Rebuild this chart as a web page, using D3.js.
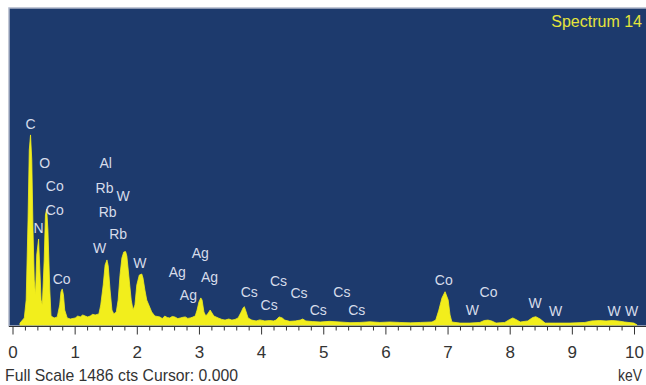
<!DOCTYPE html>
<html>
<head>
<meta charset="utf-8">
<script src="https://cdn.jsdelivr.net/npm/d3@7/dist/d3.min.js"></script>
<style>
  html, body { margin: 0; padding: 0; background: #ffffff; }
  svg { display: block; }
</style>
</head>
<body>
<svg id="chart" width="646" height="385"></svg>
<script>
// ---------- DATA ----------
const spectrumKeV = [0.12,0.19,0.22,0.25,0.27,0.29,0.31,0.33,0.35,0.37,0.39,0.42,0.43,0.46,0.48,0.51,0.53,0.55,0.57,0.60,0.62,0.67,0.72,0.76,0.78,0.80,0.82,0.84,0.88,0.93,
  1.01,1.05,1.09,1.13,1.17,1.21,1.25,1.29,1.33,1.39,1.42,1.46,1.49,1.52,1.54,1.57,1.60,1.63,1.67,1.70,1.73,1.76,1.79,1.82,1.84,1.87,1.91,1.94,1.97,2.00,2.04,2.08,2.10,2.13,2.16,2.20,2.24,2.29,
  2.37,2.41,2.45,2.49,2.53,2.57,2.61,2.66,2.70,2.74,2.78,2.82,2.86,2.90,2.94,2.97,3.00,3.03,3.05,3.08,3.11,3.15,3.18,3.21,3.24,3.31,3.37,3.42,3.48,3.53,3.58,3.63,3.68,3.71,3.73,3.76,3.79,3.85,
  3.92,3.98,4.06,4.14,4.20,4.24,4.29,4.34,4.38,4.46,4.55,4.63,4.67,4.72,4.83,4.95,5.10,5.27,5.43,5.59,5.75,5.91,6.07,6.23,6.40,6.56,6.75,6.81,6.86,6.91,6.96,7.01,7.04,7.07,
  7.20,7.36,7.52,7.59,7.65,7.71,7.78,7.92,8.00,8.05,8.10,8.17,8.29,8.37,8.42,8.49,8.57,8.73,8.97,9.21,9.32,9.45,9.55,9.65,9.74,9.85,10.00,10.05];
const spectrumCts = [9,33,117,492,820,891,774,445,211,141,328,403,328,117,94,305,516,544,445,164,42,33,38,94,155,169,141,70,33,28,
  33,42,38,47,42,38,42,50,47,52,94,188,281,305,277,164,70,52,61,117,234,314,342,344,323,234,117,70,94,188,234,239,220,164,117,89,61,42,
  38,30,42,35,33,40,38,30,33,36,38,31,33,37,42,70,108,127,117,61,42,56,70,56,42,33,26,23,28,23,26,33,61,80,86,61,33,23,
  19,24,19,21,19,23,38,33,23,17,19,23,28,19,16,14,17,14,11,12,15,12,14,12,10,12,14,23,70,127,156,117,47,14,
  9,9,12,21,23,19,9,12,26,33,26,14,19,35,39,28,9,9,9,12,19,21,19,21,19,14,9,0];

const peakLabels = ["C","N","O","Co","Co","Co","Al","Rb","W","Rb","Rb","W","W",
  "Ag","Ag","Ag","Ag","Cs","Cs","Cs","Cs","Cs","Cs","Cs","Co","W","Co","W","W","W","W"];
const peakLabelKeV = [0.29,0.42,0.52,0.68,0.68,0.79,1.50,1.48,1.78,1.53,1.70,1.40,2.05,
  3.02,2.65,3.17,2.83,3.81,4.28,4.13,4.61,4.92,5.30,5.54,6.94,7.40,7.66,8.41,8.74,9.68,9.96];
const peakLabelCts = [942,453,761,652,539,214,758,644,605,531,427,360,292,
  336,248,224,141,156,206,94,149,70,156,70,211,70,153,105,67,67,67];

const majorTicks = [0,1,2,3,4,5,6,7,8,9,10];
const minorTicks = d3.range(0, 50).map(i => i / 5).filter(v => !Number.isInteger(v));
const fullScale = 1486;
const spectrumTitle = "Spectrum 14";
const footerText = "Full Scale 1486 cts Cursor: 0.000";
const unitText = "keV";

// ---------- LAYOUT ----------
const svg = d3.select("#chart");
const plot = { left: 9, top: 8, right: 646, bottom: 326 };
const x = d3.scaleLinear().domain([0, 10]).range([12.5, 634]);
const y = d3.scaleLinear().domain([0, fullScale]).range([325, 8]);
const labelFont = "'Liberation Sans', Arial, sans-serif";

svg.append("rect").attr("x", 0).attr("y", 0).attr("width", 646).attr("height", 385).attr("fill", "#ffffff");

svg.append("rect")
  .attr("x", plot.left).attr("y", plot.top)
  .attr("width", plot.right - plot.left + 2).attr("height", plot.bottom - plot.top)
  .attr("fill", "#1d3a6d")
  .attr("stroke", "#aeb6c9").attr("stroke-width", 1.5);

const pts = spectrumKeV.map((k, i) => [k, spectrumCts[i]]);
const area = d3.area()
  .x(d => x(d[0]))
  .y0(y(0))
  .y1(d => y(d[1]))
  .curve(d3.curveLinear);

svg.append("path")
  .datum(pts)
  .attr("d", area)
  .attr("fill", "#f2ee1c")
  .attr("stroke", "#f2ee1c")
  .attr("stroke-width", 0.8);

// peak labels
svg.append("g").selectAll("text")
  .data(peakLabels)
  .join("text")
  .attr("x", (d, i) => x(peakLabelKeV[i]))
  .attr("y", (d, i) => y(peakLabelCts[i]))
  .attr("dy", "0.36em")
  .attr("text-anchor", "middle")
  .attr("font-family", labelFont)
  .attr("font-size", 14)
  .attr("fill", "#d6dcea")
  .text(d => d);

// title
svg.append("text")
  .attr("x", 642).attr("y", 27)
  .attr("text-anchor", "end")
  .attr("font-family", labelFont)
  .attr("font-size", 16)
  .attr("fill", "#e6e43a")
  .text(spectrumTitle);

// axis line
svg.append("line")
  .attr("x1", plot.left).attr("x2", plot.right)
  .attr("y1", 326.5).attr("y2", 326.5)
  .attr("stroke", "#333").attr("stroke-width", 1);

const minorAxis = d3.axisBottom(x).tickValues(minorTicks).tickSize(4).tickFormat("");
const majorAxis = d3.axisBottom(x).tickValues(majorTicks).tickSize(8).tickPadding(11).tickFormat(d3.format("d"));

const gMinor = svg.append("g").attr("transform", "translate(0,326.5)").call(minorAxis);
gMinor.select(".domain").remove();
gMinor.selectAll("line").attr("stroke", "#333");

const gMajor = svg.append("g").attr("transform", "translate(0,326.5)").call(majorAxis);
gMajor.select(".domain").remove();
gMajor.selectAll("line").attr("stroke", "#333");
gMajor.selectAll("text")
  .attr("font-family", labelFont)
  .attr("font-size", 17)
  .attr("fill", "#333");

// footer
svg.append("text")
  .attr("x", 5).attr("y", 381)
  .attr("font-family", labelFont)
  .attr("font-size", 17)
  .attr("fill", "#333")
  .attr("textLength", 233)
  .attr("lengthAdjust", "spacingAndGlyphs")
  .text(footerText);

svg.append("text")
  .attr("x", 618).attr("y", 381)
  .attr("font-family", labelFont)
  .attr("font-size", 17)
  .attr("fill", "#333")
  .attr("textLength", 24)
  .attr("lengthAdjust", "spacingAndGlyphs")
  .text(unitText);
</script>
</body>
</html>
